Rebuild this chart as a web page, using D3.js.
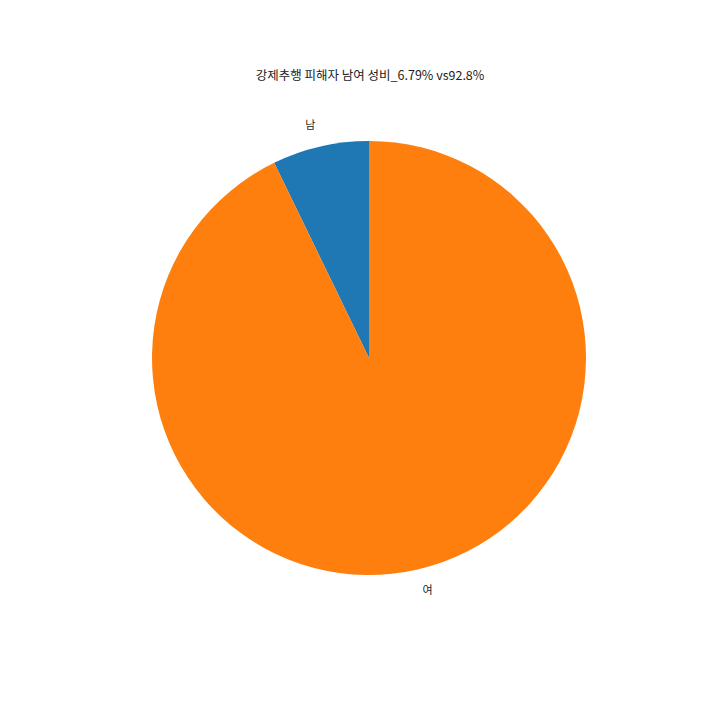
<!DOCTYPE html>
<html>
<head>
<meta charset="utf-8">
<script src="https://d3js.org/d3.v7.min.js"></script>
<style>
  body { margin: 0; background: #fff; }
  text { font-family: "Noto Sans CJK KR", "Noto Sans", sans-serif; fill: #222; }
</style>
</head>
<body>
<div id="chart"></div>
<script>
"use strict"

// 남여 비율 (그림에서 읽은 조각 크기)
var labels = ["남", "여"];
var values = [7.2, 92.8];
var colors = ["#1f77b4", "#ff7f0e"];
var title = "강제추행 피해자 남여 성비_6.79% vs92.8%";

var W = 720, H = 720;
var cx = 369, cy = 358, r = 217;

var svg = d3.select("#chart").append("svg")
    .attr("width", W)
    .attr("height", H);

svg.append("text")
    .attr("x", cx + 1)
    .attr("y", 80)
    .attr("text-anchor", "middle")
    .style("font-size", "12.5px")
    .text(title);

// matplotlib 식: 90도에서 시작, 반시계 방향
var pie = d3.pie()
    .sort(null)
    .startAngle(0)
    .endAngle(-2 * Math.PI);

var arcs = pie(values);
var arc = d3.arc().innerRadius(0).outerRadius(r);

var g = svg.append("g").attr("transform", "translate(" + cx + "," + cy + ")");

g.selectAll("path")
    .data(arcs)
    .enter()
    .append("path")
    .attr("d", arc)
    .attr("fill", (d, i) => colors[i]);

g.selectAll("text.lbl")
    .data(arcs)
    .enter()
    .append("text")
    .attr("class", "lbl")
    .each(function(d, i) {
      var mid = (d.startAngle + d.endAngle) / 2;
      var x = Math.sin(mid) * r * 1.1;
      var y = -Math.cos(mid) * r * 1.1;
      d3.select(this)
        .attr("x", x)
        .attr("y", y)
        .attr("dy", "0.35em")
        .attr("text-anchor", x < 0 ? "end" : "start")
        .style("font-size", "11px")
        .text(labels[i]);
    });
</script>
</body>
</html>
